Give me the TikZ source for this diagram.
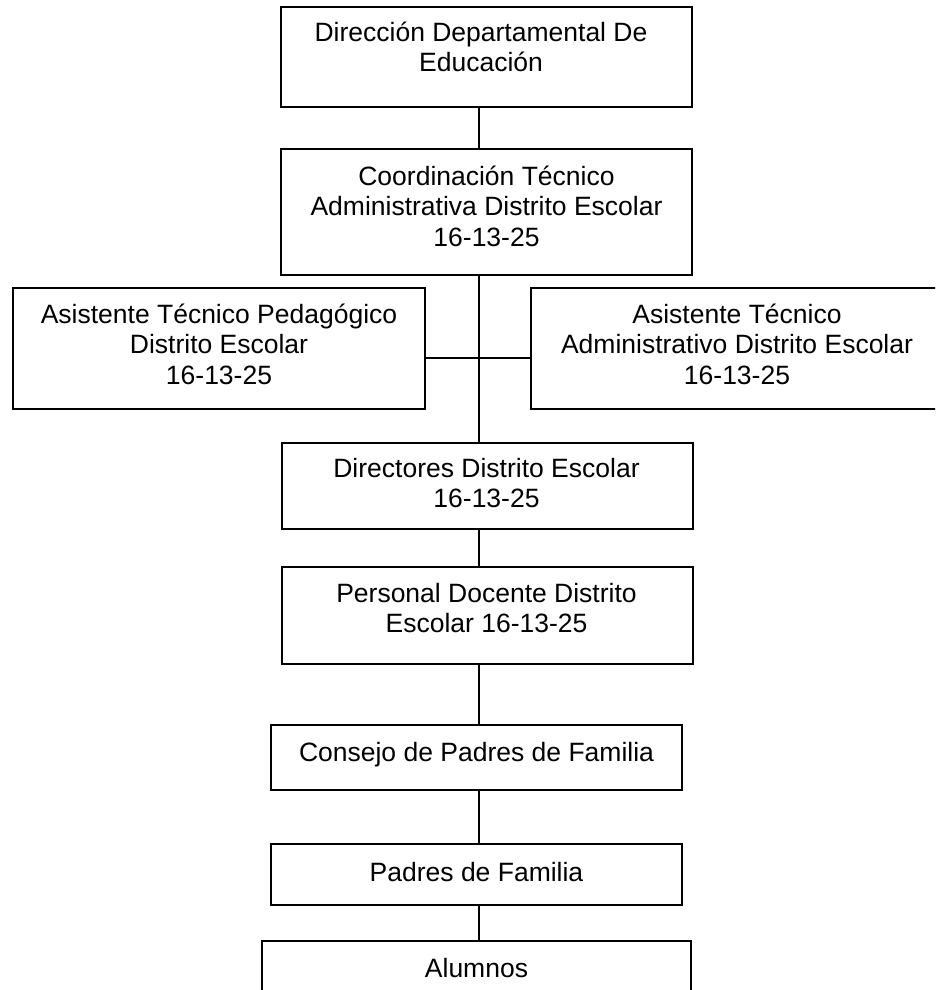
\documentclass[tikz,border=0pt]{standalone}
\usepackage{fontspec}
\setmainfont{Liberation Sans}
\begin{document}
\begin{tikzpicture}[x=1pt,y=-1pt,
  box/.style={draw=black, line width=1.5pt, inner sep=0pt, rectangle},
  txt/.style={inner sep=0pt, align=center, font=\fontsize{26.5}{30.5}\selectfont},
  link/.style={draw=black, line width=1.3pt}]
\useasboundingbox (0,0) rectangle (935,990);
\clip (0,0) rectangle (935,990);
% spine coordinates
\coordinate (spine) at (479,0);
\coordinate (hy) at (0,358);
% boxes
\node[box, minimum width=411pt, minimum height=100pt] (b1) at (486.5,57) {};
\node[box, minimum width=411pt, minimum height=126pt] (b2) at (486.5,212) {};
\node[box, minimum width=412pt, minimum height=121pt] (b3) at (219,348.5) {};
\node[box, minimum width=412pt, minimum height=121pt] (b4) at (737,348.5) {};
\node[box, minimum width=411pt, minimum height=86pt] (b5) at (487.5,486) {};
\node[box, minimum width=411pt, minimum height=97pt] (b6) at (487.5,615.5) {};
\node[box, minimum width=411pt, minimum height=65pt] (b7) at (476.5,757.5) {};
\node[box, minimum width=411pt, minimum height=61pt] (b8) at (476.5,874.5) {};
\node[box, minimum width=429pt, minimum height=60pt] (b9) at (476.5,971) {};
% texts
\node[txt] (t1) at (481,47) {Dirección Departamental De\\Educación};
\node[txt] (t2) at (486.5,206) {Coordinación Técnico\\Administrativa Distrito Escolar\\16-13-25};
\node[txt] (t3) at (219,344) {Asistente Técnico Pedagógico\\Distrito Escolar\\16-13-25};
\node[txt] (t4) at (737,344) {Asistente Técnico\\Administrativo Distrito Escolar\\16-13-25};
\node[txt] (t5) at (486.5,483) {Directores Distrito Escolar\\16-13-25};
\node[txt] (t6) at (486.5,608) {Personal Docente Distrito\\Escolar 16-13-25};
\node[txt, anchor=base] (t7) at (476.5,761) {Consejo de Padres de Familia};
\node[txt, anchor=base] (t8) at (476.5,881) {Padres de Familia};
\node[txt, anchor=base] (t9) at (476.5,977) {Alumnos};
% connectors
\draw[link] (b1.south -| spine) -- (b2.north -| spine);
\draw[link] (b2.south -| spine) -- (b5.north -| spine);
\draw[link] (b3.east |- hy) -- (b4.west |- hy);
\draw[link] (b5.south -| spine) -- (b6.north -| spine);
\draw[link] (b6.south -| spine) -- (b7.north -| spine);
\draw[link] (b7.south -| spine) -- (b8.north -| spine);
\draw[link] (b8.south -| spine) -- (b9.north -| spine);
\end{tikzpicture}
\end{document}
